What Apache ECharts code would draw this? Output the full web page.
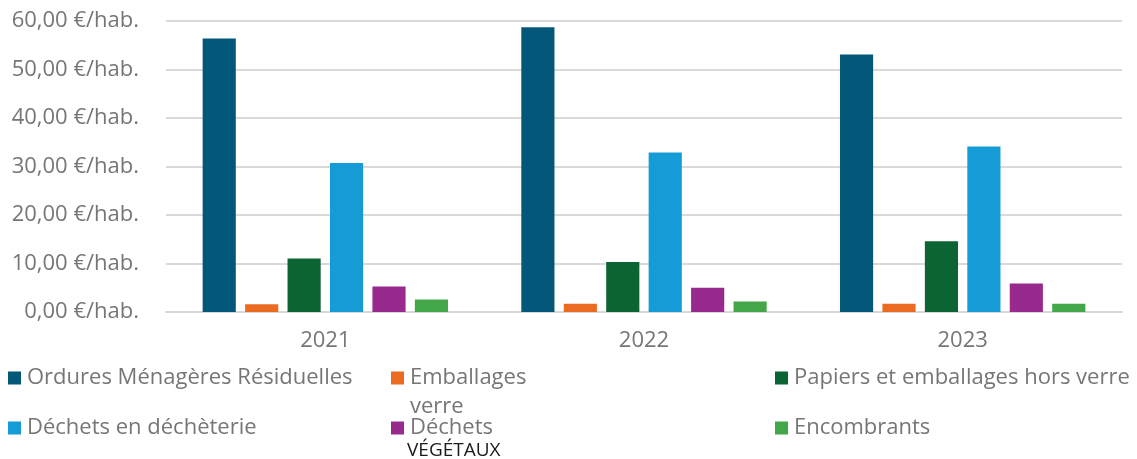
<!DOCTYPE html>
<html>
<head>
<meta charset="utf-8">
<script src="https://cdn.jsdelivr.net/npm/echarts@6/dist/echarts.min.js"></script>
<style>
  html, body { margin: 0; padding: 0; background: #fff; }
  #chart { width: 1137px; height: 459px; }
</style>
</head>
<body>
<div id="chart"></div>
<script>
var years = ['2021', '2022', '2023']
var seriesNames = [
  'Ordures Ménagères Résiduelles',
  'Emballages verre',
  'Papiers et emballages hors verre',
  'Déchets en déchèterie',
  'Déchets végétaux',
  'Encombrants'
]
var omr = [56.4, 58.7, 53.1]
var verre = [1.6, 1.7, 1.7]
var papiers = [11.05, 10.3, 14.6]
var decheterie = [30.7, 32.9, 34.1]
var vegetaux = [5.25, 5.0, 5.9]
var encombrants = [2.6, 2.15, 1.7]
var yTicks = [0, 10, 20, 30, 40, 50, 60]

var values = [omr, verre, papiers, decheterie, vegetaux, encombrants]
var colors = ['#03587A', '#EC6B22', '#0C6434', '#159BD5', '#982A8D', '#43A648']
var fontFamily = '"Open Sans", sans-serif'
var textGrey = '#767676'

// one legend per item so the three columns sit where they do in the original
// label text is centred on the icon, so a blank first line keeps the icon on line 2 of 3
var legendLabels = {
  'Emballages verre': '{s| }\n{a|Emballages}\n{a|verre}',
  'Déchets végétaux': '{t| }\n{c|Déchets}\n{b|VÉGÉTAUX}'
}
var legendPos = [
  { left: 8, top: 364 },
  { left: 391, top: 334.5 },
  { left: 775, top: 364 },
  { left: 8, top: 414 },
  { left: 391, top: 393.5 },
  { left: 775, top: 414 }
]

var legends = seriesNames.map(function (name, i) {
  return {
    data: [name],
    left: legendPos[i].left,
    top: legendPos[i].top,
    padding: 0,
    icon: 'rect',
    itemWidth: 13,
    itemHeight: 13,
    itemGap: 0,
    selectedMode: false,
    formatter: function (n) {
      return legendLabels[n] || n
    },
    textStyle: {
      color: textGrey,
      fontSize: 22,
      fontFamily: fontFamily,
      lineHeight: 28,
      padding: [0, 0, 0, 1],
      rich: {
        s: { fontSize: 22, fontFamily: fontFamily, lineHeight: 29 },
        a: { color: textGrey, fontSize: 22, fontFamily: fontFamily, lineHeight: 29 },
        t: { fontSize: 22, fontFamily: fontFamily, lineHeight: 23 },
        c: { color: textGrey, fontSize: 22, fontFamily: fontFamily, lineHeight: 23 },
        b: { color: '#1a1a1a', fontSize: 19, fontFamily: fontFamily, lineHeight: 23, padding: [0, 0, 0, -3] }
      }
    }
  }
})

var chart = echarts.init(document.getElementById('chart'))
chart.setOption({
  animation: false,
  color: colors,
  grid: {
    left: 166,
    right: 15,
    top: 21,
    bottom: 147,
    containLabel: false
  },
  legend: legends,
  xAxis: {
    type: 'category',
    data: years,
    axisTick: { show: false },
    axisLine: { lineStyle: { color: '#d9d9d9', width: 2 } },
    axisLabel: {
      color: textGrey,
      fontSize: 22,
      fontFamily: fontFamily,
      margin: 18
    }
  },
  yAxis: {
    type: 'value',
    min: yTicks[0],
    max: yTicks[yTicks.length - 1],
    interval: 10,
    axisLine: { show: false },
    axisTick: { show: false },
    splitLine: { lineStyle: { color: '#d9d9d9', width: 2 } },
    axisLabel: {
      color: textGrey,
      fontSize: 22,
      fontFamily: fontFamily,
      margin: 27,
      formatter: function (v) {
        return v.toFixed(2).replace('.', ',') + ' €/hab.'
      }
    }
  },
  series: values.map(function (vals, i) {
    return {
      name: seriesNames[i],
      type: 'bar',
      data: vals,
      barGap: '28%',
      barCategoryGap: '23%'
    }
  })
})
</script>
</body>
</html>
